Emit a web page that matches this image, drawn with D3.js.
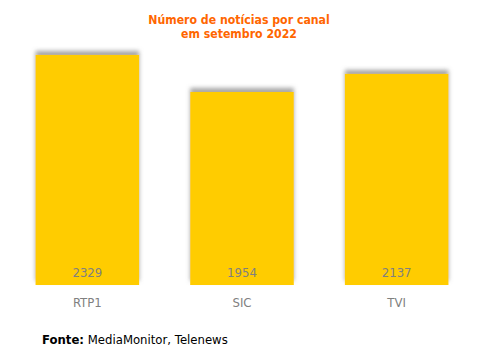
<!DOCTYPE html>
<html>
<head>
<meta charset="utf-8">
<script src="https://cdn.jsdelivr.net/npm/d3@7"></script>
<style>
  body { margin:0; background:#fff; }
</style>
</head>
<body>
<div id="chart"></div>
<script>
// data
const channels = ["RTP1", "SIC", "TVI"];
const counts   = [2329, 1954, 2137];
const titleLines = ["Número de notícias por canal", "em setembro 2022"];

const W = 487, H = 351;
const baseY = 285, topY = 38;
const font = "'DejaVu Sans Condensed', Tahoma, sans-serif";

const svg = d3.select("#chart").append("svg")
  .attr("width", W).attr("height", H)
  .attr("font-family", font);

// drop shadow pushed upward
const defs = svg.append("defs");
const f = defs.append("filter").attr("id","shadow")
  .attr("x","-10%").attr("y","-10%").attr("width","120%").attr("height","120%");
f.append("feDropShadow")
  .attr("dx",0).attr("dy",-4).attr("stdDeviation",2)
  .attr("flood-color","#808080").attr("flood-opacity",0.7);

const x = d3.scaleBand().domain(channels).range([10, 474])
  .paddingInner(0.33).paddingOuter(0.165);
const y = d3.scaleLinear().domain([0, 2500]).range([baseY, topY]);

const rows = channels.map((c,i) => ({c, v: counts[i]}));

svg.append("g").selectAll("rect").data(rows).join("rect")
  .attr("x", d => x(d.c))
  .attr("width", x.bandwidth())
  .attr("y", d => y(d.v))
  .attr("height", d => baseY - y(d.v))
  .attr("fill", "#ffcc00")
  .attr("filter", "url(#shadow)");

// value labels inside bars
svg.append("g").selectAll("text").data(rows).join("text")
  .attr("x", d => x(d.c) + x.bandwidth()/2)
  .attr("y", baseY - 8)
  .attr("text-anchor","middle")
  .attr("font-size", 13)
  .attr("fill","#808080")
  .text(d => d.v);

// category axis (no line/ticks)
const xAxis = svg.append("g")
  .attr("transform", `translate(0,${baseY})`)
  .call(d3.axisBottom(x).tickSize(0).tickPadding(13));
xAxis.select(".domain").remove();
xAxis.selectAll("text")
  .attr("font-family", font).attr("font-size", 13).attr("fill","#808080");

// title
svg.append("text")
  .attr("x", 239).attr("y", 24)
  .attr("text-anchor","middle")
  .attr("font-size", 12.2).attr("font-weight","bold")
  .attr("fill","#ff6600")
  .selectAll("tspan").data(titleLines).join("tspan")
  .attr("x", 239).attr("dy", (d,i) => i ? 14 : 0)
  .text(d => d);

// source
const src = svg.append("text")
  .attr("x", 42).attr("y", 344)
  .attr("font-family", "'DejaVu Sans', Verdana, sans-serif")
  .attr("font-size", 11.7).attr("fill","#000");
src.append("tspan").attr("font-weight","bold").text("Fonte:");
src.append("tspan").text(" MediaMonitor, Telenews");
</script>
</body>
</html>
